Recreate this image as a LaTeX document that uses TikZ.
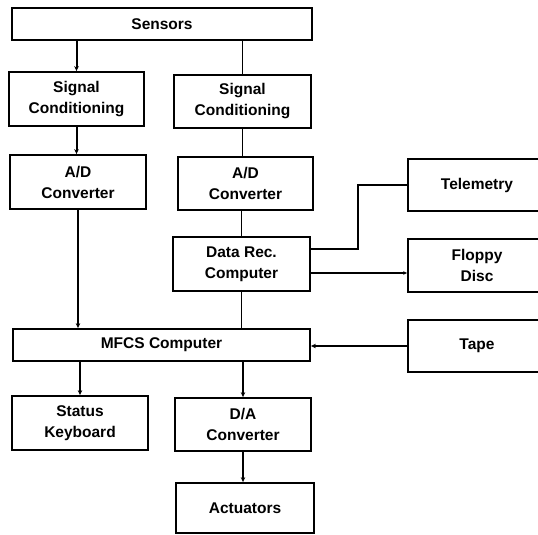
\documentclass[tikz,border=0pt]{standalone}
\usepackage{fontspec}
\setmainfont{Liberation Sans}
\usetikzlibrary{arrows.meta,calc}
\begin{document}
\begin{tikzpicture}[x=1pt,y=-1pt,
  box/.style={draw,line width=1.8pt,inner sep=0pt,align=center,
    font=\fontsize{15.5}{21}\selectfont\bfseries},
  arr/.style={line width=2pt,-{Stealth[length=5pt,width=4.5pt]}},
  arrs/.style={line width=1.2pt,-{Stealth[length=4pt,width=3.5pt]}},
  thin/.style={line width=1.2pt}]
\useasboundingbox (0,0) rectangle (538,535);
\clip (0,0) rectangle (538,535);
\node[box,minimum width=300pt,minimum height=32pt] (sens) at (162,24) {Sensors};
\node[box,minimum width=135pt,minimum height=54pt] (sc1) at (76.5,99) {Signal\\Conditioning};
\node[box,minimum width=137pt,minimum height=53pt] (sc2) at (242.5,101.5) {Signal\\Conditioning};
\node[box,minimum width=136pt,minimum height=54pt] (ad1) at (78,182) {A/D\\Converter};
\node[box,minimum width=135pt,minimum height=53pt] (ad2) at (245.5,183.5) {A/D\\Converter};
\node[box,minimum width=137pt,minimum height=54pt] (drc) at (241.5,264) {Data Rec.\\Computer};
\node[box,minimum width=297pt,minimum height=32pt] (mfcs) at (161.5,345) {MFCS Computer};
\node[box,minimum width=138pt,minimum height=52pt] (tele) at (477,185) {Telemetry};
\node[box,minimum width=138pt,minimum height=53pt] (floppy) at (477,265.5) {Floppy\\Disc};
\node[box,minimum width=138pt,minimum height=52pt] (tape) at (477,346) {Tape};
\node[box,minimum width=136pt,minimum height=54pt] (sk) at (80,423) {Status\\Keyboard};
\node[box,minimum width=136pt,minimum height=53pt] (da) at (243,424.5) {D/A\\Converter};
\node[box,minimum width=138pt,minimum height=50pt] (act) at (245,508) {Actuators};
% connectors
\draw[arr] (sens.south -| sc1) -- (sc1);
\draw[thin] (sens.south -| sc2) -- (sc2);
\draw[arr] (sc1) -- (sc1 |- ad1.north);
\draw[thin] (sc2) -- (sc2 |- ad2.north);
\draw[arr] (ad1) -- (ad1 |- mfcs.north);
\draw[thin] (drc |- ad2.south) -- (drc);
\draw[thin] (drc) -- (drc |- mfcs.north);
\draw[thin] ([yshift=15pt]drc.east) -- ++(47,0) |- (tele.west);
\draw[arrs] ([yshift=-9pt]drc.east) -- ([yshift=-9pt]drc.east -| floppy.west);
\draw[arr] (tape.west) -- (tape.west -| mfcs.east);
\draw[arr] (mfcs.south -| sk) -- (sk);
\draw[arr] (mfcs.south -| da) -- (da);
\draw[arr] (da) -- (da |- act.north);
\end{tikzpicture}
\end{document}
